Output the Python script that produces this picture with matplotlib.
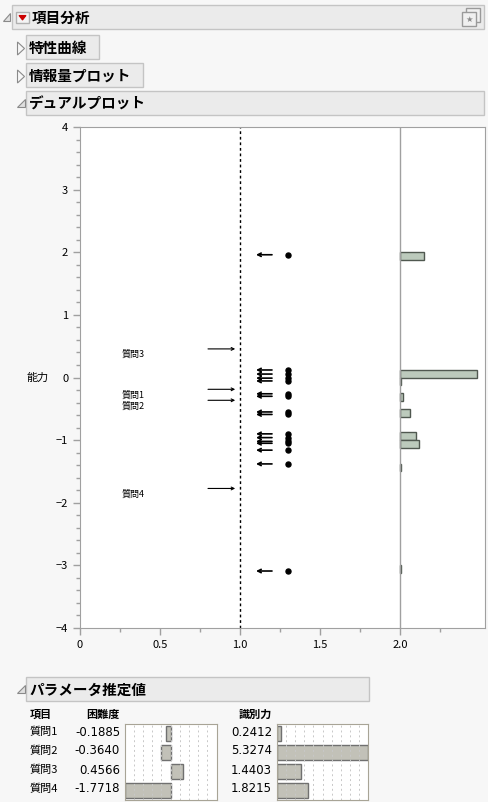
import numpy as np
import matplotlib
matplotlib.use('Agg')
import matplotlib.pyplot as plt
from matplotlib.patches import Rectangle, Polygon

plt.rcParams['font.family'] = ['Noto Sans CJK JP', 'DejaVu Sans']

# Daten
item_names = ['質問1', '質問2', '質問3', '質問4']
difficulty = [-0.1885, -0.3640, 0.4566, -1.7718]
discrimination = [0.2412, 5.3274, 1.4403, 1.8215]
person_ability = [1.96, 0.12, 0.055, -0.01, -0.055, -0.26, -0.30, -0.55, -0.59,
                  -0.90, -0.96, -1.02, -1.05, -1.16, -1.38, -3.09]
hist_lo = [1.875, 0.0, -0.125, -0.375, -0.625, -1.0, -1.125, -1.5, -3.125]
hist_size = [0.15, 0.48, 0.005, 0.02, 0.06, 0.10, 0.12, 0.005, 0.005]
bin_w = 0.125

W, H = 488, 802
fig = plt.figure(figsize=(W/100, H/100), dpi=100, facecolor='#f7f7f7')

fx = lambda x: x / W
fy = lambda y: 1 - y / H

def box(x0, y0, x1, y1, fc='#ebebeb', ec='#c4c4c4', lw=1):
    fig.patches.append(Rectangle((fx(x0), fy(y1)), (x1-x0)/W, (y1-y0)/H,
                                 transform=fig.transFigure, facecolor=fc,
                                 edgecolor=ec, lw=lw))

def tri(pts, fc='#e0e0e0', ec='#8a8a8a'):
    fig.patches.append(Polygon([(fx(a), fy(b)) for a, b in pts], closed=True,
                               transform=fig.transFigure, facecolor=fc,
                               edgecolor=ec, lw=0.8))

def header(x0, y0, x1, y1, text, tx):
    box(x0, y0, x1, y1)
    fig.text(fx(tx), fy((y0+y1)/2 + 1), text, fontsize=10.5, weight='bold',
             va='center', ha='left')

# Überschriften
header(12, 5, 484, 29, '項目分析', 32)
tri([(3, 21), (10, 21), (10, 13)])
box(16, 12, 29, 23, fc='#f4f4f4', ec='#b0b0b0')
tri([(19, 15.5), (26, 15.5), (22.5, 20)], fc='#cc0000', ec='#cc0000')
box(466, 8, 480, 22, fc='#f0f0f0', ec='#9a9a9a')
box(462, 12, 476, 26, fc='#f0f0f0', ec='#9a9a9a')
fig.text(fx(469), fy(19), '★', fontsize=6, color='#8a8a8a', ha='center',
         va='center', family='DejaVu Sans')

header(26, 35, 99, 59, '特性曲線', 29)
tri([(17.5, 42), (24.5, 48.5), (17.5, 55)], fc='#f7f7f7')
header(26, 63, 143, 87, '情報量プロット', 29)
tri([(17.5, 70), (24.5, 76.5), (17.5, 83)], fc='#f7f7f7')
header(26, 91, 484, 115, 'デュアルプロット', 29)
tri([(17, 107), (25, 107), (25, 99)])

# Dualplot
ax = fig.add_axes([fx(80), fy(628), 405/W, 501/H])
ax.set_xlim(0, 405/160)
ax.set_ylim(-4, 4)
for s in ax.spines.values():
    s.set_color('#a0a0a0')
ax.set_xticks([0, 0.5, 1.0, 1.5, 2.0])
ax.set_xticklabels(['0', '0.5', '1.0', '1.5', '2.0'])
ax.set_xticks(np.arange(0.25, 2.5, 0.5), minor=True)
ax.set_yticks(np.arange(-4, 5, 1))
ax.set_yticks(np.arange(-4, 4.01, 0.2), minor=True)
ax.tick_params(which='both', color='#a0a0a0', labelsize=8, width=1)
ax.tick_params(which='major', length=5)
ax.tick_params(which='minor', length=3)
fig.text(fx(27), fy(378), '能力', fontsize=8, va='center', ha='left')

ax.axvline(1.0, color='black', ls=(0, (2, 2)), lw=1)
ax.axvline(2.0, color='#a0a0a0', lw=1)

ax.barh(np.array(hist_lo) + bin_w/2, hist_size, height=bin_w, left=2.0,
        color='#bccabc', edgecolor='#505850', lw=1)

for a in person_ability:
    ax.annotate('', xy=(1.1, a), xytext=(1.2, a),
                arrowprops=dict(arrowstyle='->', lw=1.2, color='black',
                                shrinkA=0, shrinkB=0, mutation_scale=6))
ax.plot(np.full(len(person_ability), 1.3), person_ability, 'o', color='black',
        ms=3.6)

for name, d in zip(item_names, difficulty):
    ax.annotate('', xy=(0.97, d), xytext=(0.8, d),
                arrowprops=dict(arrowstyle='->', lw=0.8, color='black',
                                shrinkA=0, shrinkB=0, mutation_scale=5))
    ax.text(0.26, d - 0.09, name, fontsize=6.5, va='center')

# Parameterschätzungen
header(26, 677, 369, 701, 'パラメータ推定値', 29)
tri([(17, 693), (25, 693), (25, 685)])

fig.text(fx(30), fy(714), '項目', fontsize=8, weight='bold', va='center')
fig.text(fx(120), fy(714), '困難度', fontsize=8, weight='bold', va='center', ha='right')
fig.text(fx(272), fy(714), '識別力', fontsize=8, weight='bold', va='center', ha='right')

row_y = [732, 751, 770, 789]
for name, d, b, y in zip(item_names, difficulty, discrimination, row_y):
    fig.text(fx(30), fy(y), name, fontsize=8, va='center')
    fig.text(fx(120), fy(y), f'{d:.4f}', fontsize=8.5, va='center', ha='right',
             family='DejaVu Sans')
    fig.text(fx(272), fy(y), f'{b:.4f}', fontsize=8.5, va='center', ha='right',
             family='DejaVu Sans')

def bar_box(x0, x1, vals, lo, hi, left):
    bx = fig.add_axes([fx(x0), fy(800), (x1-x0)/W, 76/H])
    bx.set_xlim(lo, hi)
    bx.set_ylim(3.5, -0.5)
    for g in np.linspace(lo, hi, 11)[1:-1]:
        bx.axvline(g, color='#c8c8c8', ls=(0, (2, 3)), lw=0.7)
    bx.barh(range(len(vals)), vals, left=left, height=0.78, color='#c2c1b8',
            edgecolor='#707070', lw=1)
    bx.set_xticks([])
    bx.set_yticks([])
    for s in bx.spines.values():
        s.set_color('#a8a496')

m = max(abs(v) for v in difficulty)
bar_box(124.7, 216.7, difficulty, -m, m, 0)
bar_box(276.7, 368.3, discrimination, 0, max(discrimination), 0)

fig.savefig('out.png', dpi=100, facecolor=fig.get_facecolor())
